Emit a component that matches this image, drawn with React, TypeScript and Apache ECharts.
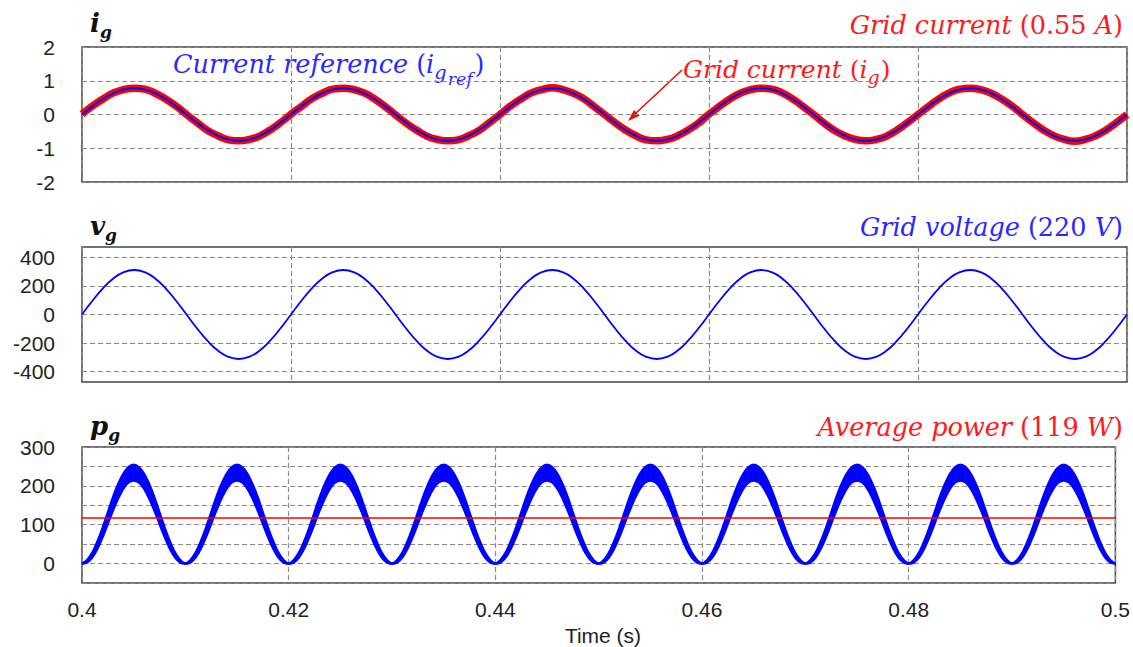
import React, { useEffect, useRef } from "react";
import * as echarts from "echarts";

// sampling of the time axis (s)
const T_START = 0.4;
const T_STEP = 0.001;
const P_STEP = 0.0005;
const X_MIN = 0.4;
const X_MAX = 0.5;
const X_INTERVAL = 0.02;

// i_g : grid current (A)
const gridCurrent = [
  0.01, 0.25, 0.46, 0.64, 0.74, 0.78, 0.75, 0.63, 0.46, 0.25,
  0.0, -0.24, -0.47, -0.63, -0.75, -0.78, -0.74, -0.64, -0.46, -0.24,
  0.01, 0.24, 0.47, 0.63, 0.75, 0.78, 0.74, 0.64, 0.46, 0.24,
  -0.01, -0.25, -0.46, -0.64, -0.74, -0.78, -0.75, -0.63, -0.47, -0.24,
  0.0, 0.25, 0.46, 0.64, 0.74, 0.79, 0.74, 0.63, 0.47, 0.24,
  0.0, -0.24, -0.46, -0.63, -0.75, -0.78, -0.74, -0.63, -0.46, -0.25,
  0.01, 0.24, 0.46, 0.63, 0.74, 0.78, 0.75, 0.64, 0.46, 0.24,
  0.0, -0.25, -0.47, -0.63, -0.74, -0.78, -0.74, -0.64, -0.46, -0.24,
  0.0, 0.24, 0.46, 0.64, 0.75, 0.78, 0.74, 0.63, 0.46, 0.25,
  0.0, -0.24, -0.46, -0.63, -0.74, -0.79, -0.74, -0.63, -0.46, -0.24,
  0.0,
];

// i_g,ref : current reference (A)
const currentRef = [
  0.0, 0.24, 0.46, 0.63, 0.74, 0.78, 0.74, 0.63, 0.46, 0.24,
  0.0, -0.24, -0.46, -0.63, -0.74, -0.78, -0.74, -0.63, -0.46, -0.24,
  0.0, 0.24, 0.46, 0.63, 0.74, 0.78, 0.74, 0.63, 0.46, 0.24,
  0.0, -0.24, -0.46, -0.63, -0.74, -0.78, -0.74, -0.63, -0.46, -0.24,
  0.0, 0.24, 0.46, 0.63, 0.74, 0.78, 0.74, 0.63, 0.46, 0.24,
  0.0, -0.24, -0.46, -0.63, -0.74, -0.78, -0.74, -0.63, -0.46, -0.24,
  0.0, 0.24, 0.46, 0.63, 0.74, 0.78, 0.74, 0.63, 0.46, 0.24,
  0.0, -0.24, -0.46, -0.63, -0.74, -0.78, -0.74, -0.63, -0.46, -0.24,
  0.0, 0.24, 0.46, 0.63, 0.74, 0.78, 0.74, 0.63, 0.46, 0.24,
  0.0, -0.24, -0.46, -0.63, -0.74, -0.78, -0.74, -0.63, -0.46, -0.24,
  0.0,
];

// v_g : grid voltage (V)
const gridVoltage = [
  0, 96, 183, 252, 296, 311, 296, 252, 183, 96,
  0, -96, -183, -252, -296, -311, -296, -252, -183, -96,
  0, 96, 183, 252, 296, 311, 296, 252, 183, 96,
  0, -96, -183, -252, -296, -311, -296, -252, -183, -96,
  0, 96, 183, 252, 296, 311, 296, 252, 183, 96,
  0, -96, -183, -252, -296, -311, -296, -252, -183, -96,
  0, 96, 183, 252, 296, 311, 296, 252, 183, 96,
  0, -96, -183, -252, -296, -311, -296, -252, -183, -96,
  0, 96, 183, 252, 296, 311, 296, 252, 183, 96,
  0, -96, -183, -252, -296, -311, -296, -252, -183, -96,
  0,
];

// p_g : instantaneous power, upper / lower envelope of the ripple band (W), every 0.5 ms
const powerUpper = [
  0, 9, 28, 57, 92, 131, 170, 204, 231, 248, 254, 248, 231, 204, 170, 131, 92, 57, 28, 9,
  0, 9, 28, 57, 92, 131, 170, 204, 231, 248, 254, 248, 231, 204, 170, 131, 92, 57, 28, 9,
  0, 9, 28, 57, 92, 131, 170, 204, 231, 248, 254, 248, 231, 204, 170, 131, 92, 57, 28, 9,
  0, 9, 28, 57, 92, 131, 170, 204, 231, 248, 254, 248, 231, 204, 170, 131, 92, 57, 28, 9,
  0, 9, 28, 57, 92, 131, 170, 204, 231, 248, 254, 248, 231, 204, 170, 131, 92, 57, 28, 9,
  0, 9, 28, 57, 92, 131, 170, 204, 231, 248, 254, 248, 231, 204, 170, 131, 92, 57, 28, 9,
  0, 9, 28, 57, 92, 131, 170, 204, 231, 248, 254, 248, 231, 204, 170, 131, 92, 57, 28, 9,
  0, 9, 28, 57, 92, 131, 170, 204, 231, 248, 254, 248, 231, 204, 170, 131, 92, 57, 28, 9,
  0, 9, 28, 57, 92, 131, 170, 204, 231, 248, 254, 248, 231, 204, 170, 131, 92, 57, 28, 9,
  0, 9, 28, 57, 92, 131, 170, 204, 231, 248, 254, 248, 231, 204, 170, 131, 92, 57, 28, 9,
  0,
];
const powerLower = [
  0, 3, 16, 39, 69, 103, 137, 168, 193, 209, 214, 209, 193, 168, 137, 103, 69, 39, 16, 3,
  0, 3, 16, 39, 69, 103, 137, 168, 193, 209, 214, 209, 193, 168, 137, 103, 69, 39, 16, 3,
  0, 3, 16, 39, 69, 103, 137, 168, 193, 209, 214, 209, 193, 168, 137, 103, 69, 39, 16, 3,
  0, 3, 16, 39, 69, 103, 137, 168, 193, 209, 214, 209, 193, 168, 137, 103, 69, 39, 16, 3,
  0, 3, 16, 39, 69, 103, 137, 168, 193, 209, 214, 209, 193, 168, 137, 103, 69, 39, 16, 3,
  0, 3, 16, 39, 69, 103, 137, 168, 193, 209, 214, 209, 193, 168, 137, 103, 69, 39, 16, 3,
  0, 3, 16, 39, 69, 103, 137, 168, 193, 209, 214, 209, 193, 168, 137, 103, 69, 39, 16, 3,
  0, 3, 16, 39, 69, 103, 137, 168, 193, 209, 214, 209, 193, 168, 137, 103, 69, 39, 16, 3,
  0, 3, 16, 39, 69, 103, 137, 168, 193, 209, 214, 209, 193, 168, 137, 103, 69, 39, 16, 3,
  0, 3, 16, 39, 69, 103, 137, 168, 193, 209, 214, 209, 193, 168, 137, 103, 69, 39, 16, 3,
  0,
];
const AVG_POWER = 119;

const voltageTicks = [-400, -200, 0, 200, 400];

const RED = "#ff0000";
const BLUE = "#0000ff";
const TXT_RED = "#ff1a1a";
const TXT_BLUE = "#2a2aff";
const SERIF = "'DejaVu Serif', serif";
const SANS = "'Liberation Sans', Arial, sans-serif";

const toPairs = (arr: number[], step: number) =>
  arr.map((v, i) => [+(T_START + i * step).toFixed(5), v]);

const splitDash = { color: "#8c8c8c", type: [5, 3], width: 1.2 };

function makeX(gridIndex: number, showLabel: boolean) {
  return {
    type: "value",
    gridIndex,
    min: X_MIN,
    max: X_MAX,
    interval: X_INTERVAL,
    axisLine: { show: false },
    axisTick: { show: false },
    axisLabel: {
      show: showLabel,
      color: "#222",
      fontFamily: SANS,
      fontSize: 21,
      margin: 16,
      formatter: (v: number) => String(+v.toFixed(2)),
    },
    splitLine: { show: true, lineStyle: splitDash },
  };
}

const yLabel = { color: "#222", fontFamily: SANS, fontSize: 21, margin: 27 };

function richMath(size: number, color: string) {
  return {
    i: { fontFamily: SERIF, fontStyle: "italic", fontSize: size, lineHeight: 60, fill: color },
    u: { fontFamily: SERIF, fontSize: size, lineHeight: 60, fill: color },
    s: { fontFamily: SERIF, fontStyle: "italic", fontSize: size * 0.76, padding: [16, 1, 0, 0], fill: color },
    ss: { fontFamily: SERIF, fontStyle: "italic", fontSize: size * 0.68, padding: [30, 2, 0, 0], fill: color },
  };
}

const titleRich = {
  b: { fontFamily: SERIF, fontStyle: "italic", fontWeight: "bold", fontSize: 26, lineHeight: 50, fill: "#111" },
  s: { fontFamily: SERIF, fontStyle: "italic", fontWeight: "bold", fontSize: 17, padding: [18, 0, 0, 0], fill: "#111" },
};

function titleText(x: number, y: number, main: string, sub: string) {
  return {
    type: "text",
    x,
    y,
    style: {
      text: `{b|${main}}{s|${sub}}`,
      rich: titleRich,
      textAlign: "left",
      textVerticalAlign: "middle",
    },
  };
}

function rightText(y: number, text: string, color: string) {
  return {
    type: "text",
    x: 1123,
    y,
    style: {
      text,
      rich: richMath(25.5, color),
      textAlign: "right",
      textVerticalAlign: "middle",
    },
  };
}

export default function App() {
  const ref = useRef<HTMLDivElement>(null);

  useEffect(() => {
    if (!ref.current) return;
    const chart = echarts.init(ref.current, null, { renderer: "svg" });

    const upperPairs = toPairs(powerUpper, P_STEP);
    const lowerPairs = toPairs(powerLower, P_STEP);
    const bandData = upperPairs.map((p, i) => [p[0], p[1], lowerPairs[i][1]]);

    const option: any = {
      animation: false,
      backgroundColor: "#ffffff",
      grid: [
        { left: 82, right: 6, top: 47, height: 135, show: true, borderColor: "#444", borderWidth: 1.5, backgroundColor: "transparent" },
        { left: 82, right: 6, top: 247, height: 135, show: true, borderColor: "#444", borderWidth: 1.5, backgroundColor: "transparent" },
        { left: 82, right: 6, top: 447, height: 136, show: true, borderColor: "#444", borderWidth: 1.5, backgroundColor: "transparent" },
      ],
      xAxis: [makeX(0, false), makeX(1, false), makeX(2, true)],
      yAxis: [
        {
          type: "value", gridIndex: 0, min: -2, max: 2, interval: 1,
          axisLine: { show: false }, axisTick: { show: false },
          axisLabel: yLabel,
          splitLine: { show: true, lineStyle: splitDash },
        },
        {
          type: "value", gridIndex: 1, min: -472, max: 472,
          axisLine: { show: false },
          axisTick: { show: false, customValues: voltageTicks },
          axisLabel: { ...yLabel, customValues: voltageTicks },
          splitLine: { show: true, lineStyle: splitDash },
        },
        {
          type: "value", gridIndex: 2, min: -50, max: 300, interval: 50,
          axisLine: { show: false }, axisTick: { show: false },
          axisLabel: {
            ...yLabel,
            formatter: (v: number) => (v >= 0 && v % 100 === 0 ? String(v) : ""),
          },
          splitLine: { show: true, lineStyle: splitDash },
        },
      ],
      series: [
        {
          name: "Grid current", type: "line", xAxisIndex: 0, yAxisIndex: 0,
          data: toPairs(gridCurrent, T_STEP), smooth: true, showSymbol: false,
          lineStyle: { color: RED, width: 7.5 },
        },
        {
          name: "Current reference", type: "line", xAxisIndex: 0, yAxisIndex: 0,
          data: toPairs(currentRef, T_STEP), smooth: true, showSymbol: false,
          lineStyle: { color: BLUE, width: 2 },
        },
        {
          name: "Grid voltage", type: "line", xAxisIndex: 1, yAxisIndex: 1,
          data: toPairs(gridVoltage, T_STEP), smooth: true, showSymbol: false,
          lineStyle: { color: BLUE, width: 1.8 },
        },
        {
          name: "Power band", type: "custom", xAxisIndex: 2, yAxisIndex: 2,
          coordinateSystem: "cartesian2d",
          data: bandData,
          encode: { x: 0, y: [1, 2] },
          z: 3,
          renderItem: (params: any, api: any) => {
            const i = params.dataIndex;
            if (i >= bandData.length - 1) return null;
            const a = bandData[i];
            const b = bandData[i + 1];
            const p1 = api.coord([a[0], a[1]]);
            const p2 = api.coord([b[0], b[1]]);
            const p3 = api.coord([b[0], b[2]]);
            const p4 = api.coord([a[0], a[2]]);
            return {
              type: "polygon",
              shape: { points: [p1, p2, p3, p4] },
              style: { fill: BLUE, stroke: BLUE, lineWidth: 0.8 },
            };
          },
        },
        {
          name: "Power upper", type: "line", xAxisIndex: 2, yAxisIndex: 2,
          data: upperPairs, smooth: 0.3, showSymbol: false, z: 4,
          lineStyle: { color: BLUE, width: 2.5 },
        },
        {
          name: "Power lower", type: "line", xAxisIndex: 2, yAxisIndex: 2,
          data: lowerPairs, smooth: 0.3, showSymbol: false, z: 4,
          lineStyle: { color: BLUE, width: 2.5 },
          markLine: {
            silent: true, symbol: "none", label: { show: false },
            lineStyle: { color: RED, width: 1.6, type: "solid" },
            data: [{ yAxis: AVG_POWER }],
          },
        },
      ],
      graphic: [
        titleText(90, 23, "i", "g"),
        titleText(90, 226, "v", "g"),
        titleText(90, 426, "p", "g"),
        rightText(25, "{i|Grid current }{u|(0.55 }{i|A}{u|)}", TXT_RED),
        rightText(227, "{i|Grid voltage }{u|(220 }{i|V}{u|)}", TXT_BLUE),
        rightText(427, "{i|Average power }{u|(119 }{i|W}{u|)}", TXT_RED),
        {
          type: "text", x: 173, y: 64,
          style: {
            text: "{i|Current reference }{u|(}{i|i}{s|g}{ss|ref}{u|)}",
            rich: richMath(25.5, TXT_BLUE),
            textAlign: "left", textVerticalAlign: "middle",
          },
        },
        {
          type: "text", x: 683, y: 69,
          style: {
            text: "{i|Grid current }{u|(}{i|i}{s|g}{u|)}",
            rich: richMath(25, TXT_RED),
            textAlign: "left", textVerticalAlign: "middle",
          },
        },
        {
          type: "line",
          shape: { x1: 682, y1: 70, x2: 636, y2: 113 },
          style: { stroke: RED, lineWidth: 1.5 },
        },
        {
          type: "polygon",
          shape: { points: [[628, 121], [639.5, 115.7], [634, 109.9]] },
          style: { fill: RED },
        },
        {
          type: "text", x: 603, y: 635,
          style: {
            text: "Time (s)", fontFamily: SANS, fontSize: 21, fill: "#222",
            textAlign: "center", textVerticalAlign: "middle",
          },
        },
      ],
    };

    chart.setOption(option);
    return () => chart.dispose();
  }, []);

  return (
    <div
      ref={ref}
      style={{ position: "fixed", left: 0, top: 0, width: 1133, height: 647, background: "#fff" }}
    />
  );
}
